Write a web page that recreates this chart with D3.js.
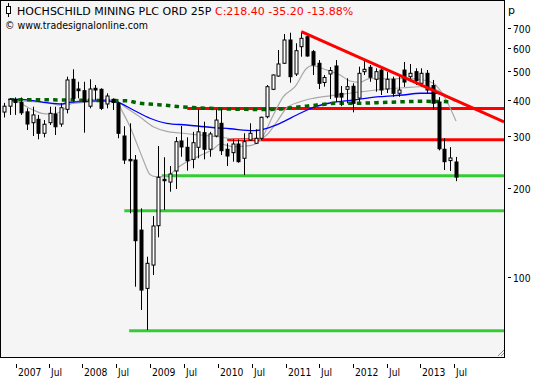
<!DOCTYPE html>
<html><head><meta charset="utf-8">
<script src="https://cdn.jsdelivr.net/npm/d3@7"></script>
<style>
body{margin:0;background:#fff}
svg{display:block}
text{font-family:"DejaVu Sans",Verdana,sans-serif;}
</style>
</head><body>
<svg id="chart" width="533" height="379"></svg>
<script>
// ---------- DATA ----------
const title = "HOCHSCHILD MINING PLC ORD 25P";
const quote = "C:218.40 -35.20 -13.88%";
const source = "© www.tradesignalonline.com";
const currency = "p";

// monthly bars, Nov 2006 .. Jun 2013 (index 0..79)
const open  = [363,380,401,391,363.6,334,343,307.5,334,357.5,330.6,370.8,469,434.7,429,380,437,433.6,386.6,401,
  388.7,301,250.8,249.5,144.3,91.5,109.8,149.3,214.6,210,229,289.6,275.6,250.8,275.6,309,271.4,301,332.5,271.4,
  264.3,282.8,253,292,284.4,295.7,350,433.6,481,531.5,637.5,488.8,605,654,582,531.5,457.3,488.8,520.3,420,
  433.6,444,405,497.7,515,469,504,434.7,469,420.4,504,478.6,497.7,454.5,491.4,446.4,392.6,271.4,248.4,245.7];
const high  = [390,404,407,407,373.7,378.5,355,341,378.5,378.5,388.7,478.6,507,460,460,469,448.5,437,420.3,404,
  393.6,325,332.5,259.5,171,117.2,161,278.4,255,238,298.7,325.5,298,311,370.8,336.7,311,370.8,370.8,284.4,
  293.4,293.4,307.5,332.5,317.2,350,448.5,487,589.5,668,675,621.5,680,663,589.5,545,485,516,545,445,
  472.6,454.5,517.4,545,524.4,511,516.2,497,478.6,485,537,528.5,511,511,504,466.5,408,295.7,276,255.6];
const low   = [348,355,355,355,315.5,301,293.4,298,328,303.4,323.6,359.4,393.6,404,309,373.7,399,368.8,373.7,368.8,
  295.7,241.8,164.5,92.7,77.3,66.1,101.6,136.4,168.8,194.8,199,256,229.6,233.9,253,250.8,256,298,259.5,238,
  246.3,244.3,221.9,290,282.8,292,345.8,431,478.6,528.5,456.6,481,559.6,559.6,485,434.7,442.6,402,392.6,380,
  388.7,362.3,393.6,485,460,425.7,414.8,421.3,409,409,441.7,460,448.5,442.6,420.4,368.8,269,230.8,229,211.5];
const close = [380,401,391,361,330.6,355,307.5,330,359.4,323.6,375.5,466.5,404,429,393.6,434.7,431.3,373.7,411.5,391,
  307.5,249.5,248,132.8,90.3,111.3,149,218,212.3,223.7,288,276.3,248,285.7,311,271.4,305.9,341,268.4,257.5,
  282.8,246.3,288,307.5,295.7,348.5,442.6,485,528.5,637.5,478.6,586.4,646,562.6,524.4,454.5,475.7,502.3,408,408,
  442.6,388.7,491.4,507,476.4,497.7,431.3,469,420.4,431.3,459,491.4,463.9,491.4,431.3,389,272.5,246.3,253.6,218.4];

// moving averages: [bar index, price]
const maGreen = [[1,400],[5,400],[10,399],[15,398],[19,397],[21.5,396.7],[23.2,390.5],[26.1,385.7],[27.9,383.5],
  [30.8,378.5],[32.5,376.6],[36,373.7],[39.5,371.7],[42.4,370.7],[46.5,370.6],[51,376.6],[54.7,383.5],[58.2,388.7],
  [61,388.7],[67,391.7],[72.75,394.8],[78,393.6]];
const maBlue = [[0.77,401],[2.81,401],[5.14,396.7],[7.48,390.5],[10.1,386.6],[10.98,390.5],[14.48,394.8],[16.8,396.7],
  [19.72,392.6],[22.62,368.8],[25.54,345.8],[28.46,332.5],[31.96,328.1],[36.03,322.4],[39.55,318.6],[43.6,314],
  [45.94,319.8],[48.27,332.5],[51.19,354.7],[54.09,376.7],[57.01,389.6],[61.08,398.8],[65.75,409.3],[69.83,414.8],
  [72.75,420.4],[75.66,420.4],[77.41,409.3],[78.86,397.3]];
const maGrayFast = [[0.77,401],[1.64,399],[2.81,390.5],[3.99,378.5],[5.14,369],[6.61,359.5],[8.06,357.5],[9.51,361],
  [10.38,369],[10.98,378.5],[11.85,388.7],[13.3,396.7],[16.8,401],[18.55,399],[19.72,393.6],[20.87,359.4],[22.05,323.6],
  [23.22,284.4],[24.37,249.5],[25.54,222.7],[26.42,219.3],[27.87,219.3],[29.04,222.7],[30.21,233.5],[31.96,245.7],
  [34.29,258.2],[36.61,271.9],[37.78,282.8],[40.1,276.7],[43.03,279.2],[44.78,290.5],[47.1,354.7],[48.85,409.3],
  [50.89,442.6],[52.94,511],[53.81,521.5],[56.43,504.2],[58.76,485],[60.5,462.8],[62.26,458.1],[64,472.6],[67.5,470],
  [70.42,472.6],[73.32,466.4],[75.07,454.4],[76.82,414.8],[79.04,338.5]];
const maGraySlow = [[0.77,398.8],[2.24,396.7],[5.14,393.6],[8.06,388.7],[9.81,383.5],[10.98,386.6],[14.48,392.6],
  [16.8,394.8],[19.72,393.6],[21.47,373.7],[23.79,349.2],[26.12,323.8],[28.46,312.1],[30.79,308.2],[34.29,303.4],
  [37.78,298.7],[40.7,293.4],[44.2,293.4],[45.94,303.4],[47.69,335.9],[49.44,374.6],[51.77,393.6],[54.09,404.2],
  [57.01,412.2],[60.5,420.4],[65.75,433],[69.83,439],[73.92,443.3],[76.24,425.7],[78.86,393.6]];

// support / resistance lines: [start bar, price]
const redLevels   = [[32.06,373],[39.05,292.5]];
const greenLevels = [[27.6,220.7],[21.05,168],[21.9,65.7]];
const trendLine   = [[52,680],[87.43,336]];

// axis
const yTicks = [100,200,300,400,500,600,700];
const xTickLabels = ["2007","Jul","2008","Jul","2009","Jul","2010","Jul","2011","Jul","2012","Jul","2013","Jul"];
const xTickPos    = [2.07,7.88,13.65,19.6,25.5,31.5,37.4,43.4,49.3,55.1,61.0,67.0,72.7,78.7];

// ---------- DRAW ----------
const svg = d3.select("#chart");
const plot = {l:0.5, t:0.5, r:504.5, b:357.5};

const x = d3.scaleLinear().domain([0,79]).range([3.9,455.8]);
const y = d3.scaleLog().domain([50,1000]).range([365.7,-17.6]);

svg.append("defs").append("clipPath").attr("id","clip")
  .append("rect").attr("x",plot.l+0.5).attr("y",plot.t+0.5)
  .attr("width",plot.r-plot.l-1).attr("height",plot.b-plot.t-1);

svg.append("rect").attr("x",plot.l).attr("y",plot.t)
  .attr("width",plot.r-plot.l).attr("height",plot.b-plot.t)
  .attr("fill","#f5f5f5").attr("stroke","none");

const g = svg.append("g").attr("clip-path","url(#clip)");

// horizontal levels
greenLevels.forEach(([b,p])=>{
  g.append("line").attr("x1",x(b)).attr("x2",plot.r).attr("y1",y(p)).attr("y2",y(p))
   .attr("stroke","#33cc33").attr("stroke-width",3);
});
redLevels.forEach(([b,p])=>{
  g.append("line").attr("x1",x(b)).attr("x2",plot.r).attr("y1",y(p)).attr("y2",y(p))
   .attr("stroke","#ff0000").attr("stroke-width",3);
});

const line = d3.line().x(d=>x(d[0])).y(d=>y(d[1])).curve(d3.curveMonotoneX);

g.append("path").datum(maGraySlow).attr("d",line).attr("fill","none").attr("stroke","#a8a8a8").attr("stroke-width",1.2);
g.append("path").datum(maGrayFast).attr("d",line).attr("fill","none").attr("stroke","#a8a8a8").attr("stroke-width",1.2);
g.append("path").datum(maBlue).attr("d",line).attr("fill","none").attr("stroke","#0000ff").attr("stroke-width",1.3);
g.append("path").datum(maGreen).attr("d",line).attr("fill","none").attr("stroke","#006400")
  .attr("stroke-width",3.5).attr("stroke-dasharray","4.5,4.2");

// candles
const bars = d3.range(open.length).map(i=>({i,o:open[i],h:high[i],l:low[i],c:close[i]}));
const cg = g.append("g");
bars.forEach(d=>{
  const cx = Math.round(x(d.i))+0.5;
  cg.append("line").attr("x1",cx).attr("x2",cx).attr("y1",y(d.h)).attr("y2",y(d.l))
    .attr("stroke","#000").attr("stroke-width",1);
  const top = y(Math.max(d.o,d.c)), bot = y(Math.min(d.o,d.c));
  const up = d.c >= d.o;
  cg.append("rect").attr("x",cx-1.5).attr("y",top).attr("width",3).attr("height",Math.max(1,bot-top))
    .attr("fill",up?"#ffffff":"#000").attr("stroke","#000").attr("stroke-width",1);
});

// trend line
g.append("line").attr("x1",x(trendLine[0][0])).attr("y1",y(trendLine[0][1]))
  .attr("x2",x(trendLine[1][0])).attr("y2",y(trendLine[1][1]))
  .attr("stroke","#ff0000").attr("stroke-width",3);

// frame
svg.append("rect").attr("x",plot.l).attr("y",plot.t)
  .attr("width",plot.r-plot.l).attr("height",plot.b-plot.t)
  .attr("fill","none").attr("stroke","#000").attr("stroke-width",1);

// resize grip
svg.append("path").attr("d","M498,356 L504,350 M501,356 L504,353").attr("stroke","#888").attr("stroke-width",1);

// title (one text element, two coloured parts)
const t = svg.append("text").attr("x",17).attr("y",15).attr("font-size",11);
t.append("tspan").attr("fill","#000").text(title + " ");
t.append("tspan").attr("fill","#ff0000").text(quote);
svg.append("text").attr("x",5).attr("y",29).attr("font-size",11).attr("fill","#000")
  .attr("textLength",143).attr("lengthAdjust","spacingAndGlyphs").text(source);
// small candle icon
svg.append("line").attr("x1",8.5).attr("x2",8.5).attr("y1",3).attr("y2",17).attr("stroke","#000");
svg.append("rect").attr("x",6.5).attr("y",6.5).attr("width",4).attr("height",7).attr("fill","#fff").attr("stroke","#000");

// right axis
const ya = svg.append("g");
yTicks.forEach(v=>{
  const yy = Math.round(y(v))+0.5;
  ya.append("line").attr("x1",508).attr("x2",511).attr("y1",yy).attr("y2",yy).attr("stroke","#000");
  ya.append("text").attr("x",513).attr("y",yy+4).attr("font-size",10).attr("fill","#000")
    .attr("textLength",17.5).attr("lengthAdjust","spacingAndGlyphs").text(v);
});
svg.append("text").attr("x",508).attr("y",14).attr("font-size",11).attr("fill","#000").text(currency);

// bottom axis
const xa = svg.append("g");
xTickPos.forEach((p,k)=>{
  const xx = Math.round(x(p))+0.5;
  xa.append("line").attr("x1",xx).attr("x2",xx).attr("y1",364).attr("y2",368).attr("stroke","#000");
  xa.append("text").attr("x",xx+1.5).attr("y",376).attr("font-size",10.5).attr("fill","#000")
    .attr("textLength",xTickLabels[k].length===4?23.5:11).attr("lengthAdjust","spacingAndGlyphs")
    .text(xTickLabels[k]);
});
</script>
</body></html>
